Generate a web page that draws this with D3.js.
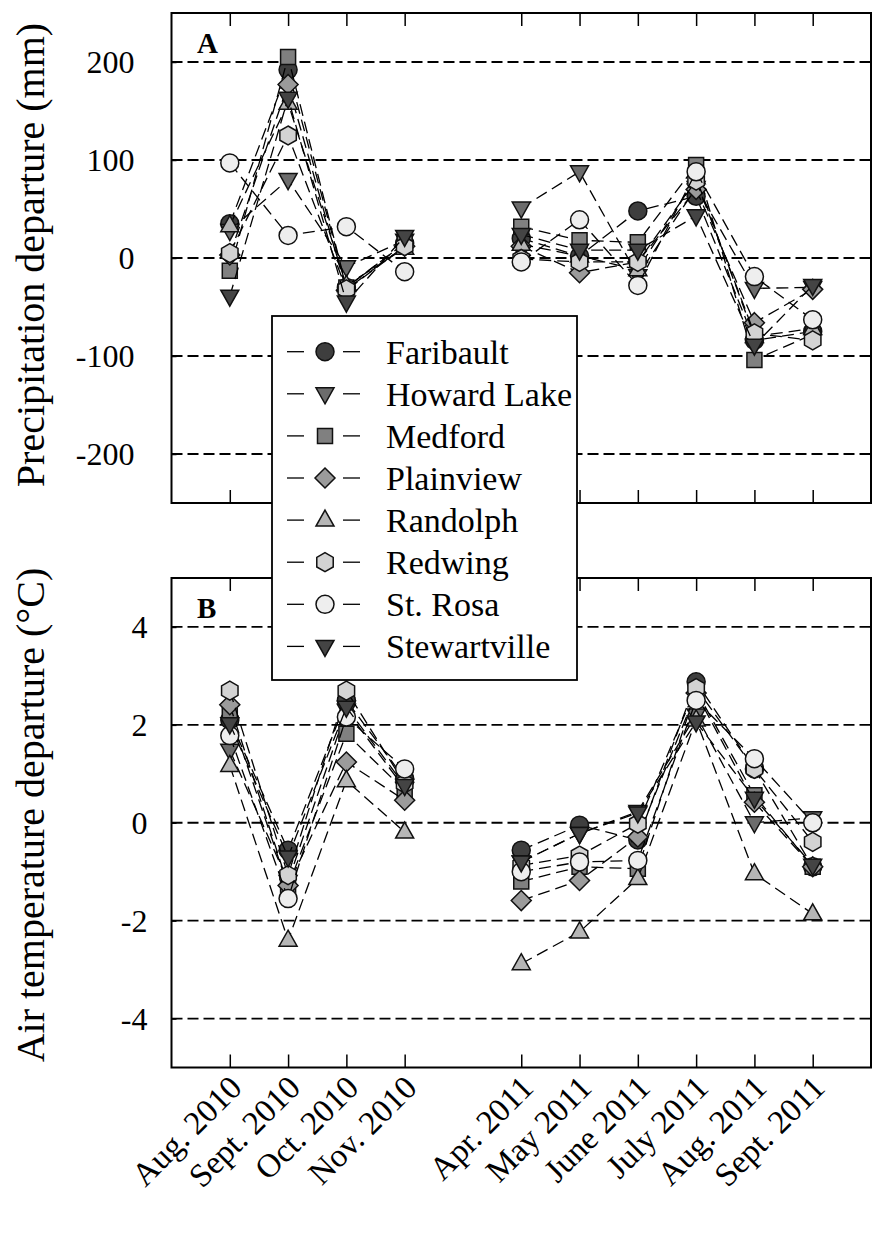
<!DOCTYPE html>
<html>
<head>
<meta charset="utf-8">
<script src="https://cdn.jsdelivr.net/npm/d3@7"></script>
<style>
  html, body { margin: 0; padding: 0; background: #fff; }
  svg { display: block; }
  svg text { font-family: "Liberation Serif", "Times New Roman", Tinos, "DejaVu Serif", serif !important; fill: #000; }
</style>
</head>
<body>
<svg id="chart" width="877" height="1234"></svg>
<script>
// Months on the x axis (slot index keeps the gap between 2010 and 2011)
const months = ["Aug. 2010", "Sept. 2010", "Oct. 2010", "Nov. 2010",
                "Apr. 2011", "May 2011", "June 2011", "July 2011", "Aug. 2011", "Sept. 2011"];
const monthSlots = [1, 2, 3, 4, 6, 7, 8, 9, 10, 11];
const seasonBreak = 4; // lines are not joined between Nov. 2010 and Apr. 2011

const stations = ["Faribault", "Howard Lake", "Medford", "Plainview",
                  "Randolph", "Redwing", "St. Rosa", "Stewartville"];

// Precipitation departure (mm), one row per station, one value per month
const precipFaribault    = [35, 192, -30, 15,   20,   2,  48, 63,  -84, -75];
const precipHowardLake   = [28,  80,  -9, 18,   51,  88, -18, 72,  -31, -30];
const precipMedford      = [-13, 205, -30, 15,  32,  18,  16, 95, -104, -78];
const precipPlainview    = [3,  177, -33, 12,   12, -15,  -4, 70,  -66, -32];
const precipRandolph     = [33, 158, -28, 10,   14,   2, -12, 82,  -80, -72];
const precipRedwing      = [5,  125, -32, 12,   -1,  -4,  -4, 79,  -77, -84];
const precipStRosa       = [97,  23,  32, -14,  -4,  39, -28, 88,  -19, -63];
const precipStewartville = [-39, 163, -45, 22,  24,   8,   8, 43,  -89, -28];

// Air temperature departure (°C)
const tempFaribault    = [2.10, -0.56, 2.50, 0.90,  -0.56, -0.05, -0.35, 2.88,  1.10, -0.90];
const tempHowardLake   = [1.48, -1.20, 2.30, 0.70,  -0.80, -0.22,  0.23, 2.20,  0.00,  0.10];
const tempMedford      = [2.22, -1.30, 1.82, 0.66,  -1.20, -0.90, -0.94, 2.70,  0.56, -0.90];
const tempPlainview    = [2.41, -1.28, 1.24, 0.46,  -1.59, -1.18, -0.29, 2.65,  0.42, -0.90];
const tempRandolph     = [1.17, -2.40, 0.86, -0.19, -2.88, -2.23, -1.14, 2.10, -1.04, -1.86];
const tempRedwing      = [2.70, -1.07, 2.70, 0.80,  -0.87, -0.67, -0.02, 2.75,  1.10, -0.39];
const tempStRosa       = [1.78, -1.55, 2.16, 1.10,  -1.00, -0.80, -0.77, 2.50,  1.31,  0.00];
const tempStewartville = [2.02, -0.70, 2.36, 0.76,  -0.80, -0.22,  0.20, 2.06,  0.50, -0.87];

const precipTicks = [-200, -100, 0, 100, 200];
const tempTicks = [-4, -2, 0, 2, 4];

const precipSeries = [precipFaribault, precipHowardLake, precipMedford, precipPlainview,
                      precipRandolph, precipRedwing, precipStRosa, precipStewartville];
const tempSeries = [tempFaribault, tempHowardLake, tempMedford, tempPlainview,
                    tempRandolph, tempRedwing, tempStRosa, tempStewartville];

// Marker style per station
const markerShape = ["circle", "triDown", "square", "diamond", "triUp", "hexagon", "circle", "triDown"];
const markerFill = ["#3e3e3e", "#6c6c6c", "#808080", "#9b9b9b", "#b6b6b6", "#d3d3d3", "#eeeeee", "#444444"];

const serif = '"Liberation Serif", "Times New Roman", Tinos, "DejaVu Serif", serif';

function markerPath(shape) {
  const p = d3.path();
  if (shape === "circle") {
    p.arc(0, 0, 9, 0, 2 * Math.PI);
  } else if (shape === "square") {
    p.rect(-7.5, -7.5, 15, 15);
  } else if (shape === "diamond") {
    p.moveTo(0, -10); p.lineTo(10, 0); p.lineTo(0, 10); p.lineTo(-10, 0); p.closePath();
  } else if (shape === "triUp") {
    p.moveTo(0, -10); p.lineTo(9, 6); p.lineTo(-9, 6); p.closePath();
  } else if (shape === "triDown") {
    p.moveTo(0, 10); p.lineTo(9, -6); p.lineTo(-9, -6); p.closePath();
  } else if (shape === "hexagon") {
    for (let k = 0; k < 6; k++) {
      const a = -Math.PI / 2 + k * Math.PI / 3;
      const px = 9.5 * Math.cos(a), py = 9.5 * Math.sin(a);
      if (k === 0) p.moveTo(px, py); else p.lineTo(px, py);
    }
    p.closePath();
  }
  return p.toString();
}

const svg = d3.select("#chart").attr("font-family", serif);
const x = d3.scaleLinear().domain([0, 12]).range([171.5, 871]);

const panels = [
  { series: precipSeries, ticks: precipTicks, domain: [-250, 250], range: [503, 13],
    label: "A", title: "Precipitation departure (mm)", titleY: 255, tickPad: 37, monthLabels: false },
  { series: tempSeries, ticks: tempTicks, domain: [-5, 5], range: [1067.5, 578],
    label: "B", title: "Air temperature departure (°C)", titleY: 815, tickPad: 24, monthLabels: true }
];

panels.forEach(pn => {
  const y = d3.scaleLinear().domain(pn.domain).range(pn.range);
  const g = svg.append("g");
  const top = pn.range[1], bottom = pn.range[0];

  // dashed reference lines at each labelled value
  g.append("g").selectAll("line").data(pn.ticks).join("line")
    .attr("x1", x(0)).attr("x2", x(12))
    .attr("y1", d => y(d)).attr("y2", d => y(d))
    .attr("stroke", "#000").attr("stroke-width", 1.8)
    .attr("stroke-dasharray", "11,5");

  // station lines and markers
  pn.series.forEach((vals, si) => {
    const pts = vals.map((v, i) => ({ slot: monthSlots[i], v, i }));
    const segs = [pts.slice(0, seasonBreak), pts.slice(seasonBreak)];
    const line = d3.line().x(d => x(d.slot)).y(d => y(d.v));
    const sg = g.append("g");
    segs.forEach(seg => {
      sg.append("path").attr("d", line(seg))
        .attr("fill", "none").attr("stroke", "#000").attr("stroke-width", 1.3)
        .attr("stroke-dasharray", "12,6");
    });
    sg.selectAll("path.m").data(pts).join("path").attr("class", "m")
      .attr("d", markerPath(markerShape[si]))
      .attr("transform", d => `translate(${x(d.slot)},${y(d.v)})`)
      .attr("fill", markerFill[si]).attr("stroke", "#111").attr("stroke-width", 1.5);
  });

  // frame
  g.append("rect").attr("x", x(0)).attr("y", top)
    .attr("width", x(12) - x(0)).attr("height", bottom - top)
    .attr("fill", "none").attr("stroke", "#000").attr("stroke-width", 2);

  // left axis
  const yAxis = d3.axisLeft(y).tickValues(pn.ticks).tickSize(-5).tickPadding(pn.tickPad)
    .tickFormat(d => String(d));
  const ya = g.append("g").attr("transform", `translate(${x(0)},0)`).call(yAxis)
    .attr("font-family", serif).attr("font-size", 32);
  ya.select(".domain").remove();
  ya.selectAll(".tick line").attr("stroke", "#000").attr("stroke-width", 1.5);
  ya.selectAll(".tick text").attr("dy", "0.34em");

  // month ticks on top and bottom edges, pointing inward
  const xTop = d3.axisTop(x).tickValues(monthSlots).tickSize(-13).tickFormat("");
  const xt = g.append("g").attr("transform", `translate(0,${top})`).call(xTop);
  xt.select(".domain").remove();
  xt.selectAll(".tick line").attr("stroke", "#000").attr("stroke-width", 1.5);

  const xBot = d3.axisBottom(x).tickValues(monthSlots).tickSize(-13).tickFormat("");
  const xb = g.append("g").attr("transform", `translate(0,${bottom})`).call(xBot);
  xb.select(".domain").remove();
  xb.selectAll(".tick line").attr("stroke", "#000").attr("stroke-width", 1.5);

  if (pn.monthLabels) {
    g.append("g").selectAll("text").data(months).join("text")
      .attr("transform", (d, i) => `translate(${x(monthSlots[i]) + 14},${bottom + 22}) rotate(-45)`)
      .attr("text-anchor", "end").attr("font-size", 33)
      .text(d => d);
  }

  // panel letter
  g.append("text").attr("x", 197).attr("y", top + 40)
    .attr("font-size", 29).attr("font-weight", "bold").text(pn.label);

  // axis title
  g.append("text").attr("transform", `translate(44,${pn.titleY}) rotate(-90)`)
    .attr("text-anchor", "middle").attr("font-size", 40).text(pn.title);
});

// legend box spanning both panels
const lg = svg.append("g");
lg.append("rect").attr("x", 272).attr("y", 316).attr("width", 305).attr("height", 364)
  .attr("fill", "#fff").attr("stroke", "#000").attr("stroke-width", 1.8);
stations.forEach((name, i) => {
  const cy = 351.7 + i * 42.1;
  const row = lg.append("g").attr("transform", `translate(0,${cy})`);
  row.append("line").attr("x1", 287).attr("x2", 304).attr("y1", 0).attr("y2", 0)
    .attr("stroke", "#000").attr("stroke-width", 1.3);
  row.append("line").attr("x1", 343).attr("x2", 360).attr("y1", 0).attr("y2", 0)
    .attr("stroke", "#000").attr("stroke-width", 1.3);
  row.append("path").attr("d", markerPath(markerShape[i]))
    .attr("transform", "translate(325,0)")
    .attr("fill", markerFill[i]).attr("stroke", "#111").attr("stroke-width", 1.5);
  row.append("text").attr("x", 386).attr("y", 0).attr("dy", "0.35em")
    .attr("font-size", 34).text(name);
});
</script>
</body>
</html>
